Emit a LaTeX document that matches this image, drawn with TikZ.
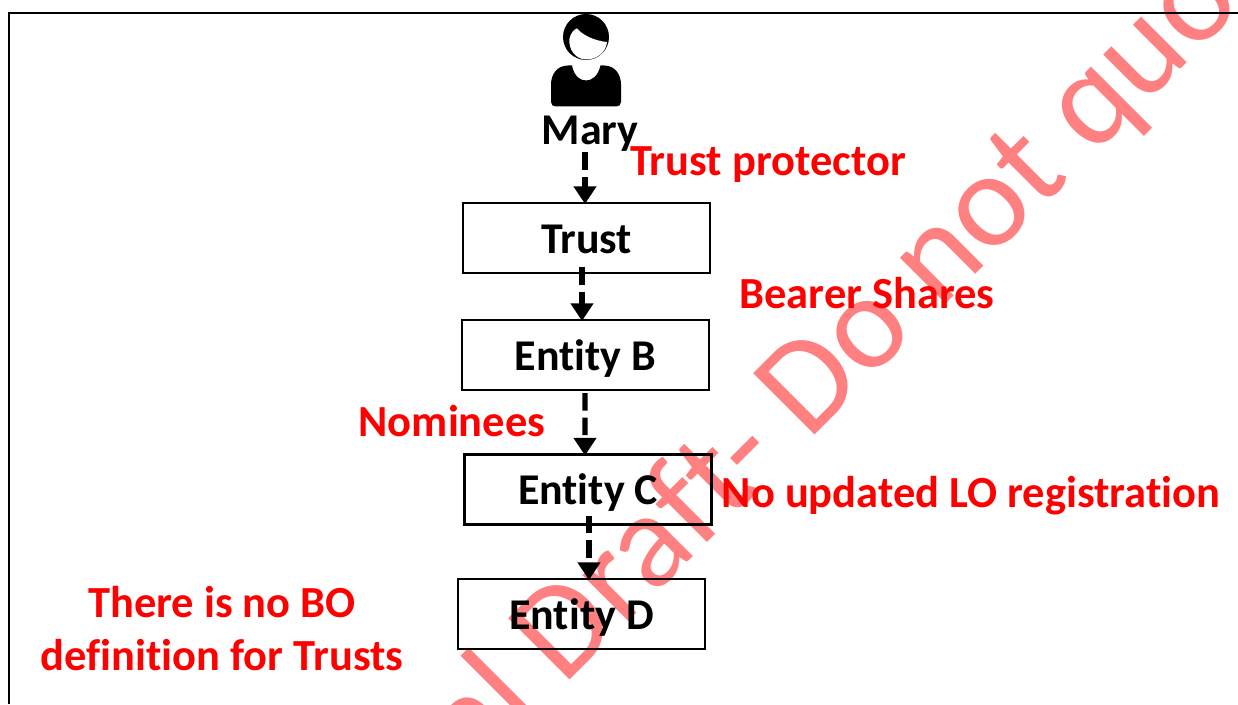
\documentclass[tikz,border=0pt]{standalone}
\usepackage{fontspec}
\setmainfont[Ligatures=NoCommon]{Carlito}
\usepackage{xcolor}
\usetikzlibrary{arrows.meta,positioning}
\definecolor{draftred}{RGB}{255,128,128}

\begin{document}
\begin{tikzpicture}
	\tikzstyle{bigtext}=[font=\fontsize{25}{30}\selectfont\bfseries,inner sep=0pt]
	\tikzstyle{entbox}=[bigtext,rectangle,draw=black,line width=1.2pt,minimum width=4.94cm,minimum height=1.4cm,text height=17.2pt,text depth=0pt]
	\tikzstyle{rednote}=[bigtext,font=\fontsize{25.3}{30.2}\selectfont\bfseries,text=red,align=center]
	\tikzstyle{flow}=[black,line width=3.1pt,dash pattern=on 10pt off 4pt,-{Triangle[width=12.5pt,length=10pt]}]
	\useasboundingbox (0,0) rectangle (24.76,14.08);
	% watermark
	\begin{scope}
		\clip (0,0) rectangle (24.76,14.08);
		\node[text=draftred,font=\fontsize{77}{100}\selectfont,rotate=45,anchor=base east,inner sep=0pt] (draft) at (24.9,13.98) {al Draft- Do not quo};
	\end{scope}
	% frame
	\draw[line width=1.2pt] (0.18,0) -- (0.18,13.82) -- (24.76,13.82);
	% person
	\begin{scope}[xshift=11.72cm,yshift=13.34cm]
		\fill (0,0) circle (0.46);
		\fill[white] (-0.33,-0.03) .. controls (-0.30,0.08) and (-0.25,0.15) .. (-0.18,0.17) .. controls (-0.05,0.02) and (0.2,-0.08) .. (0.42,-0.10) .. controls (0.40,-0.32) and (0.2,-0.45) .. (0,-0.45) .. controls (-0.2,-0.45) and (-0.36,-0.25) .. (-0.33,-0.03) -- cycle;
		\fill (-0.28,-0.57) .. controls (-0.24,-0.78) and (-0.12,-0.87) .. (0,-0.87) .. controls (0.12,-0.87) and (0.24,-0.78) .. (0.29,-0.57) -- (0.36,-0.57) .. controls (0.58,-0.57) and (0.70,-0.75) .. (0.70,-0.95) -- (0.70,-1.30) .. controls (0.70,-1.36) and (0.66,-1.39) .. (0.60,-1.39) -- (-0.60,-1.39) .. controls (-0.66,-1.39) and (-0.70,-1.36) .. (-0.70,-1.30) -- (-0.70,-0.95) .. controls (-0.70,-0.75) and (-0.58,-0.57) .. (-0.36,-0.57) -- cycle;
	\end{scope}
	% chain
	\node[bigtext] (mary) at (11.8,11.4) {Mary};
	\node[entbox] (trust) at (11.73,9.32) {Trust};
	\node[entbox] (entityb) at (11.71,6.98) {Entity B};
	\node[entbox] (entityc) at (11.76,4.29) {Entity C};
	\node[entbox] (entityd) at (11.63,1.80) {Entity D};
	\draw[flow] ([xshift=-0.1cm,yshift=0cm]mary.south) -- ([xshift=-0.03cm,yshift=-0.04cm]trust.north);
	\draw[flow] ([xshift=-0.09cm,yshift=0.14cm]trust.south) -- ([xshift=-0.07cm,yshift=-0.04cm]entityb.north);
	\draw[flow] ([xshift=-0.01cm,yshift=-0.04cm]entityb.south) -- ([xshift=-0.06cm,yshift=-0.04cm]entityc.north);
	\draw[flow] ([xshift=0.02cm,yshift=0.2cm]entityc.south) -- ([xshift=0.15cm,yshift=-0.04cm]entityd.north);
	% notes
	\node[rednote] (protector) at (15.36,10.78) {Trust protector};
	\node[rednote] (bearer) at (17.34,8.22) {Bearer Shares};
	\node[rednote] (nominees) at (9.04,5.66) {Nominees};
	\node[rednote] (registration) at (19.42,4.16) {No updated LO registration};
	\node[rednote] (nodef) at (4.44,1.5) {There is no BO\\definition for Trusts};
\end{tikzpicture}
\end{document}
